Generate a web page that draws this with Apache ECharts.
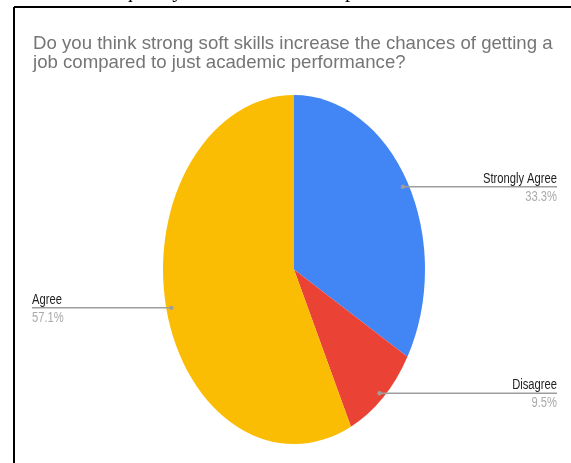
<!DOCTYPE html>
<html>
<head>
<meta charset="utf-8">
<script src="https://cdn.jsdelivr.net/npm/echarts@6/dist/echarts.min.js"></script>
<style>
  html,body{margin:0;padding:0;background:#fff;}
  #wrap{position:relative;width:571px;height:463px;overflow:hidden;background:#fff;}
  #pie{position:absolute;left:0;top:0;width:571px;height:463px;transform-origin:294px 269.5px;transform:scaleY(1.332);}
  #ov{position:absolute;left:0;top:0;width:571px;height:463px;}
</style>
</head>
<body>
<div id="wrap"><div id="pie"></div><div id="ov"></div></div>
<script>
// ---- data ----
const titleLines = [
  'Do you think strong soft skills increase the chances of getting a',
  'job compared to just academic performance?'
];
const topCutText = 'the frequency of soft skill development of the answer';
const categories = ['Strongly Agree', 'Disagree', 'Agree'];
const values = [33.3, 9.5, 57.1];
const percentLabels = ['33.3%', '9.5%', '57.1%'];
const colors = ['#4285F4', '#EA4335', '#FBBC04'];

// ---- geometry ----
const CX = 294, CY = 269.5, RX = 131, RY = 174.5;

const pieChart = echarts.init(document.getElementById('pie'), null, {renderer: 'svg'});
pieChart.setOption({
  animation: false,
  series: [{
    type: 'pie',
    center: [CX, CY],
    radius: [0, RX],
    startAngle: 90,
    clockwise: true,
    label: {show: false},
    labelLine: {show: false},
    itemStyle: {borderWidth: 0},
    data: categories.map((c, i) => ({name: c, value: values[i], itemStyle: {color: colors[i]}}))
  }]
});

// overlay: frame, title, labels
const ov = echarts.init(document.getElementById('ov'));
const g = [];
// frame
g.push({type: 'line', shape: {x1: 14, y1: 7, x2: 600, y2: 7}, style: {stroke: '#000', lineWidth: 2}});
g.push({type: 'line', shape: {x1: 14, y1: 7, x2: 14, y2: 500}, style: {stroke: '#000', lineWidth: 2}});
// cut text at top
g.push({type: 'text', x: 68, y: -9, style: {text: topCutText, font: '21px "Liberation Serif"', fill: '#000', textVerticalAlign: 'middle'}});
// title
titleLines.forEach((t, i) => {
  g.push({type: 'text', x: 33, y: 34 + i * 19.5, scaleX: 0.98,
    style: {text: t, font: '19px "Liberation Sans", Arial, sans-serif', fill: '#757575', textVerticalAlign: 'top'}});
});
// labels
const total = values.reduce((a, b) => a + b, 0);
let cum = 0;
const F = 0.96;
values.forEach((v, i) => {
  const mid = (cum + v / 2) / total * Math.PI * 2;
  cum += v;
  const ax = CX + F * RX * Math.sin(mid);
  const ay = CY - F * RY * Math.cos(mid) + 1;
  const right = Math.sin(mid) > 0;
  const x1 = right ? ax : 32, x2 = right ? 557 : ax;
  const tx = right ? 557 : 32;
  const align = right ? 'right' : 'left';
  g.push({type: 'line', shape: {x1: x1, y1: ay, x2: x2, y2: ay}, style: {stroke: '#9e9e9e', lineWidth: 1.5}});
  g.push({type: 'circle', shape: {cx: ax, cy: ay, r: 2.2}, style: {fill: '#9e9e9e'}});
  g.push({type: 'text', x: tx, y: ay - 1, scaleX: 0.8,
    style: {text: categories[i], font: '14px "Liberation Sans", Arial, sans-serif', fill: '#222', textAlign: align, textVerticalAlign: 'bottom'}});
  g.push({type: 'text', x: tx, y: ay + 3, scaleX: 0.8,
    style: {text: percentLabels[i], font: '14px "Liberation Sans", Arial, sans-serif', fill: '#aaaaaa', textAlign: align, textVerticalAlign: 'top'}});
});
ov.setOption({animation: false, graphic: {elements: g}});
</script>
</body>
</html>
